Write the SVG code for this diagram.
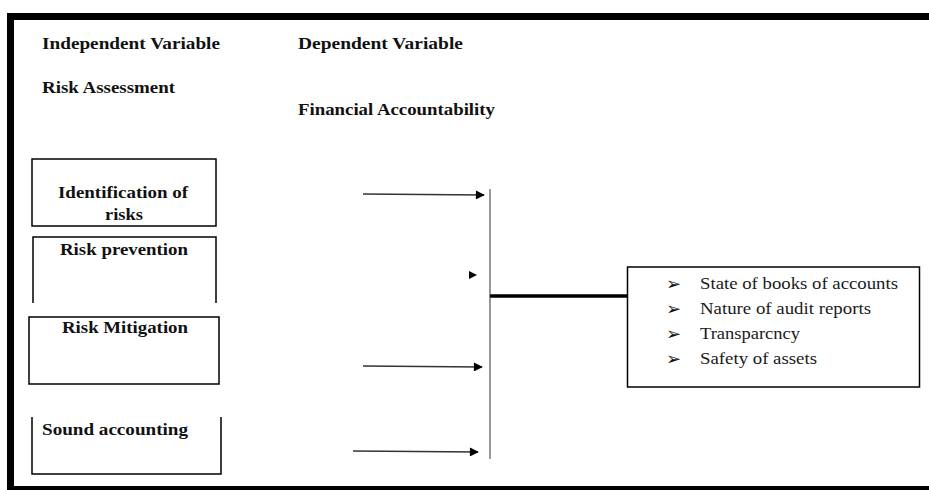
<svg xmlns="http://www.w3.org/2000/svg" width="929" height="490" viewBox="0 0 929 490">
<style>
.hd{font-family:"Liberation Serif","Times New Roman",serif;font-weight:bold;font-size:16.5px;fill:#111}
.bx{fill:none;stroke:#000;stroke-width:1.5}
.it{font-family:"Liberation Serif","Times New Roman",serif;font-size:17px;fill:#1a1a1a}
.bl{font-family:"DejaVu Sans",sans-serif;font-size:18px;fill:#111}
.ar{stroke:#333;stroke-width:1.3;fill:none;marker-end:url(#ah)}
</style>
<defs>
<marker id="ah" viewBox="0 0 10 10" refX="9" refY="5" markerWidth="10" markerHeight="9" markerUnits="userSpaceOnUse" orient="auto">
<path d="M0,0 L10,5 L0,10 Z" fill="#000"/>
</marker>
</defs>
<g id="frame">
<rect x="7" y="13" width="922" height="7" fill="#000"/>
<rect x="7" y="13" width="7" height="477" fill="#000"/>
<rect x="7" y="486" width="922" height="4" fill="#000"/>
</g>
<g id="headers">
<text class="hd" x="42" y="49" textLength="178" lengthAdjust="spacingAndGlyphs">Independent Variable</text>
<text class="hd" x="298" y="49" textLength="165" lengthAdjust="spacingAndGlyphs">Dependent Variable</text>
<text class="hd" x="42" y="93" textLength="133" lengthAdjust="spacingAndGlyphs">Risk Assessment</text>
<text class="hd" x="298" y="115" textLength="197" lengthAdjust="spacingAndGlyphs">Financial Accountability</text>
</g>
<g id="n-identification">
<rect class="bx" x="32" y="159" width="184" height="67"/>
<text class="hd" x="58" y="198" textLength="130" lengthAdjust="spacingAndGlyphs">Identification of</text>
<text class="hd" x="105" y="220" textLength="38" lengthAdjust="spacingAndGlyphs">risks</text>
</g>
<g id="n-prevention">
<path class="bx" d="M33,303 V237 H216 V303"/>
<text class="hd" x="60" y="255" textLength="128" lengthAdjust="spacingAndGlyphs">Risk prevention</text>
</g>
<g id="n-mitigation">
<rect class="bx" x="29" y="317" width="190" height="67"/>
<text class="hd" x="62" y="333" textLength="126" lengthAdjust="spacingAndGlyphs">Risk Mitigation</text>
</g>
<g id="n-sound">
<path class="bx" d="M32,417 V474 H221 V417"/>
<text class="hd" x="42" y="435" textLength="146" lengthAdjust="spacingAndGlyphs">Sound accounting</text>
</g>
<g id="n-outcome">
<rect class="bx" x="627.5" y="267" width="292" height="120"/>
<text class="bl" x="666" y="290">➢</text>
<text class="it" x="700" y="289" textLength="198" lengthAdjust="spacingAndGlyphs">State of books of accounts</text>
<text class="bl" x="666" y="315">➢</text>
<text class="it" x="700" y="314" textLength="171" lengthAdjust="spacingAndGlyphs">Nature of audit reports</text>
<text class="bl" x="666" y="340">➢</text>
<text class="it" x="700" y="339" textLength="100" lengthAdjust="spacingAndGlyphs">Transparcncy</text>
<text class="bl" x="666" y="365">➢</text>
<text class="it" x="700" y="364" textLength="117" lengthAdjust="spacingAndGlyphs">Safety of assets</text>
</g>
<g id="connectors">
<line x1="490" y1="189" x2="490" y2="459" stroke="#777" stroke-width="1.5"/>
<line x1="490" y1="296" x2="628" y2="296" stroke="#000" stroke-width="3.5"/>
<line class="ar" x1="363" y1="194" x2="484" y2="195"/>
<path d="M469,271 L477,275 L469,279 Z" fill="#000"/>
<line class="ar" x1="363" y1="366" x2="482" y2="367"/>
<line class="ar" x1="353" y1="451" x2="478" y2="452"/>
</g>
</svg>
